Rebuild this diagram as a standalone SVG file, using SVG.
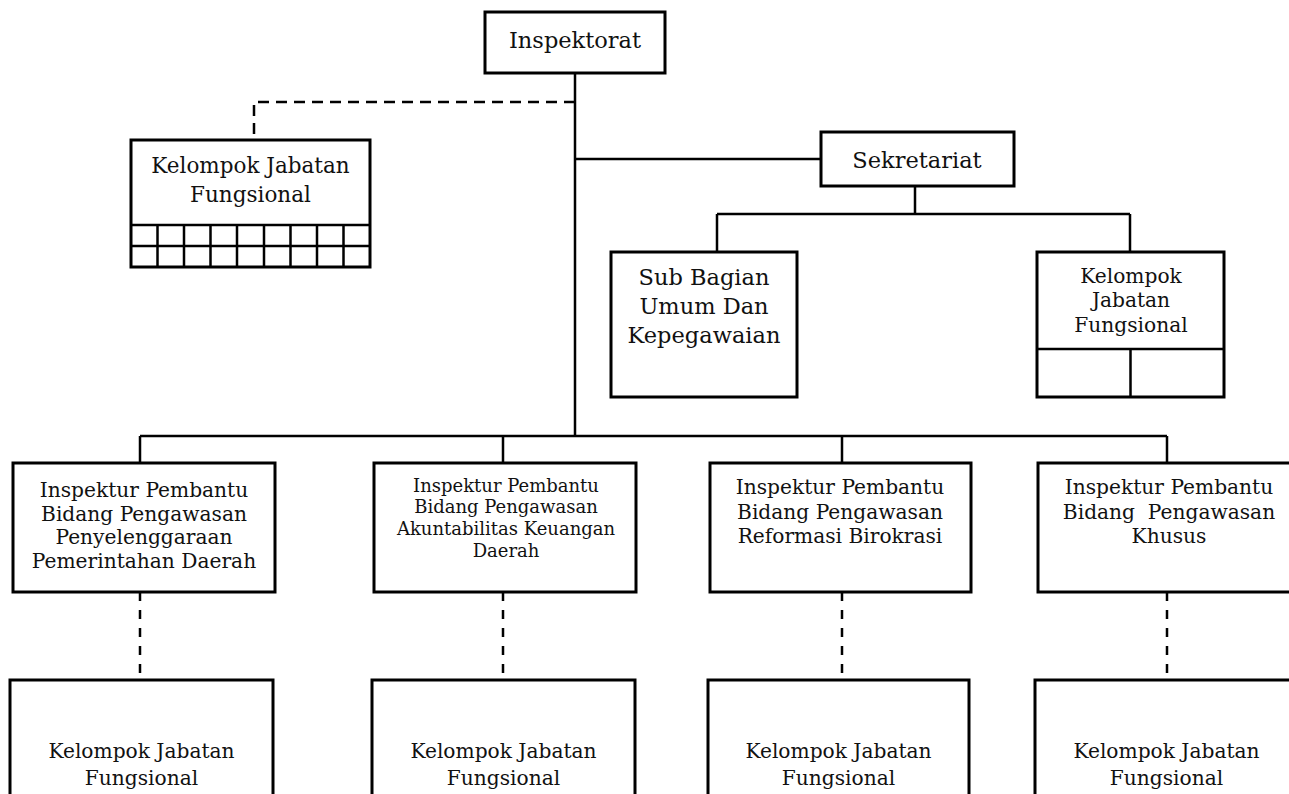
<svg xmlns="http://www.w3.org/2000/svg" width="1289" height="794" viewBox="0 0 1289 794">
<style>
.box{fill:#fff;stroke:#000;stroke-width:3}
.ln{fill:none;stroke:#000;stroke-width:2.5}
.dash{fill:none;stroke:#000;stroke-width:2.5;stroke-dasharray:11 7}
.vd{fill:none;stroke:#000;stroke-width:2.5;stroke-dasharray:9 9}
text{font-family:"DejaVu Serif","Liberation Serif",serif;fill:#111;text-anchor:middle}
.t22{font-size:22.5px}
.t21{font-size:21.5px}
.t20{font-size:20.2px}
.t18{font-size:18px}
</style>
<rect width="1289" height="794" fill="#fff"/>
<g id="connectors">
<path class="ln" d="M575 73V436"/>
<path class="ln" d="M575 159H821"/>
<path class="ln" d="M915 186V214M717 214H1130M717 214V252M1130 214V252"/>
<path class="ln" d="M140 436H1167M140 436V463M503 436V463M842 436V463M1167 436V463"/>
<path class="dash" d="M575 102H254V140"/>
<path class="vd" d="M140 592V680M503 592V680M842 592V680M1167 592V680"/>
</g>
<g id="inspektorat">
<rect class="box" x="485" y="12" width="180" height="61"/>
<text class="t22" x="575" y="48">Inspektorat</text>
</g>
<g id="kjf-top">
<rect class="box" x="131" y="140" width="239" height="127"/>
<path class="ln" d="M131 225H370M131 246H370M157.5 225V267M184 225V267M210.5 225V267M237 225V267M264 225V267M290.5 225V267M317 225V267M343.5 225V267"/>
<text class="t21" x="250.5" y="173">Kelompok Jabatan</text>
<text class="t21" x="250.5" y="202">Fungsional</text>
</g>
<g id="sekretariat">
<rect class="box" x="821" y="132" width="193" height="54"/>
<text class="t22" x="917" y="168">Sekretariat</text>
</g>
<g id="subbagian">
<rect class="box" x="611" y="252" width="186" height="145"/>
<text class="t22" x="704" y="285">Sub Bagian</text>
<text class="t22" x="704" y="314">Umum Dan</text>
<text class="t22" x="704" y="343">Kepegawaian</text>
</g>
<g id="kjf-sekretariat">
<rect class="box" x="1037" y="252" width="187" height="145"/>
<path class="ln" d="M1037 349H1224M1130.5 349V397"/>
<text class="t20" x="1131" y="283">Kelompok</text>
<text class="t20" x="1131" y="307">Jabatan</text>
<text class="t20" x="1131" y="332">Fungsional</text>
</g>
<g id="irban1">
<rect class="box" x="13" y="463" width="262" height="129"/>
<text class="t20" x="144" y="497">Inspektur Pembantu</text>
<text class="t20" x="144" y="521">Bidang Pengawasan</text>
<text class="t20" x="144" y="544">Penyelenggaraan</text>
<text class="t20" x="144" y="568">Pemerintahan Daerah</text>
</g>
<g id="irban2">
<rect class="box" x="374" y="463" width="262" height="129"/>
<text class="t18" x="506" y="492">Inspektur Pembantu</text>
<text class="t18" x="506" y="513">Bidang Pengawasan</text>
<text class="t18" x="506" y="535">Akuntabilitas Keuangan</text>
<text class="t18" x="506" y="557">Daerah</text>
</g>
<g id="irban3">
<rect class="box" x="710" y="463" width="261" height="129"/>
<text class="t20" x="840" y="494">Inspektur Pembantu</text>
<text class="t20" x="840" y="519">Bidang Pengawasan</text>
<text class="t20" x="840" y="543">Reformasi Birokrasi</text>
</g>
<g id="irban4">
<rect class="box" x="1038" y="463" width="262" height="129"/>
<text class="t20" x="1169" y="494">Inspektur Pembantu</text>
<text class="t20" x="1169" y="519" xml:space="preserve">Bidang  Pengawasan</text>
<text class="t20" x="1169" y="543">Khusus</text>
</g>
<g id="kjf1">
<rect class="box" x="10" y="680" width="263" height="130"/>
<text class="t20" x="141.5" y="758">Kelompok Jabatan</text>
<text class="t20" x="141.5" y="785">Fungsional</text>
</g>
<g id="kjf2">
<rect class="box" x="372" y="680" width="263" height="130"/>
<text class="t20" x="503.5" y="758">Kelompok Jabatan</text>
<text class="t20" x="503.5" y="785">Fungsional</text>
</g>
<g id="kjf3">
<rect class="box" x="708" y="680" width="261" height="130"/>
<text class="t20" x="838.5" y="758">Kelompok Jabatan</text>
<text class="t20" x="838.5" y="785">Fungsional</text>
</g>
<g id="kjf4">
<rect class="box" x="1035" y="680" width="263" height="130"/>
<text class="t20" x="1166.5" y="758">Kelompok Jabatan</text>
<text class="t20" x="1166.5" y="785">Fungsional</text>
</g>
</svg>
